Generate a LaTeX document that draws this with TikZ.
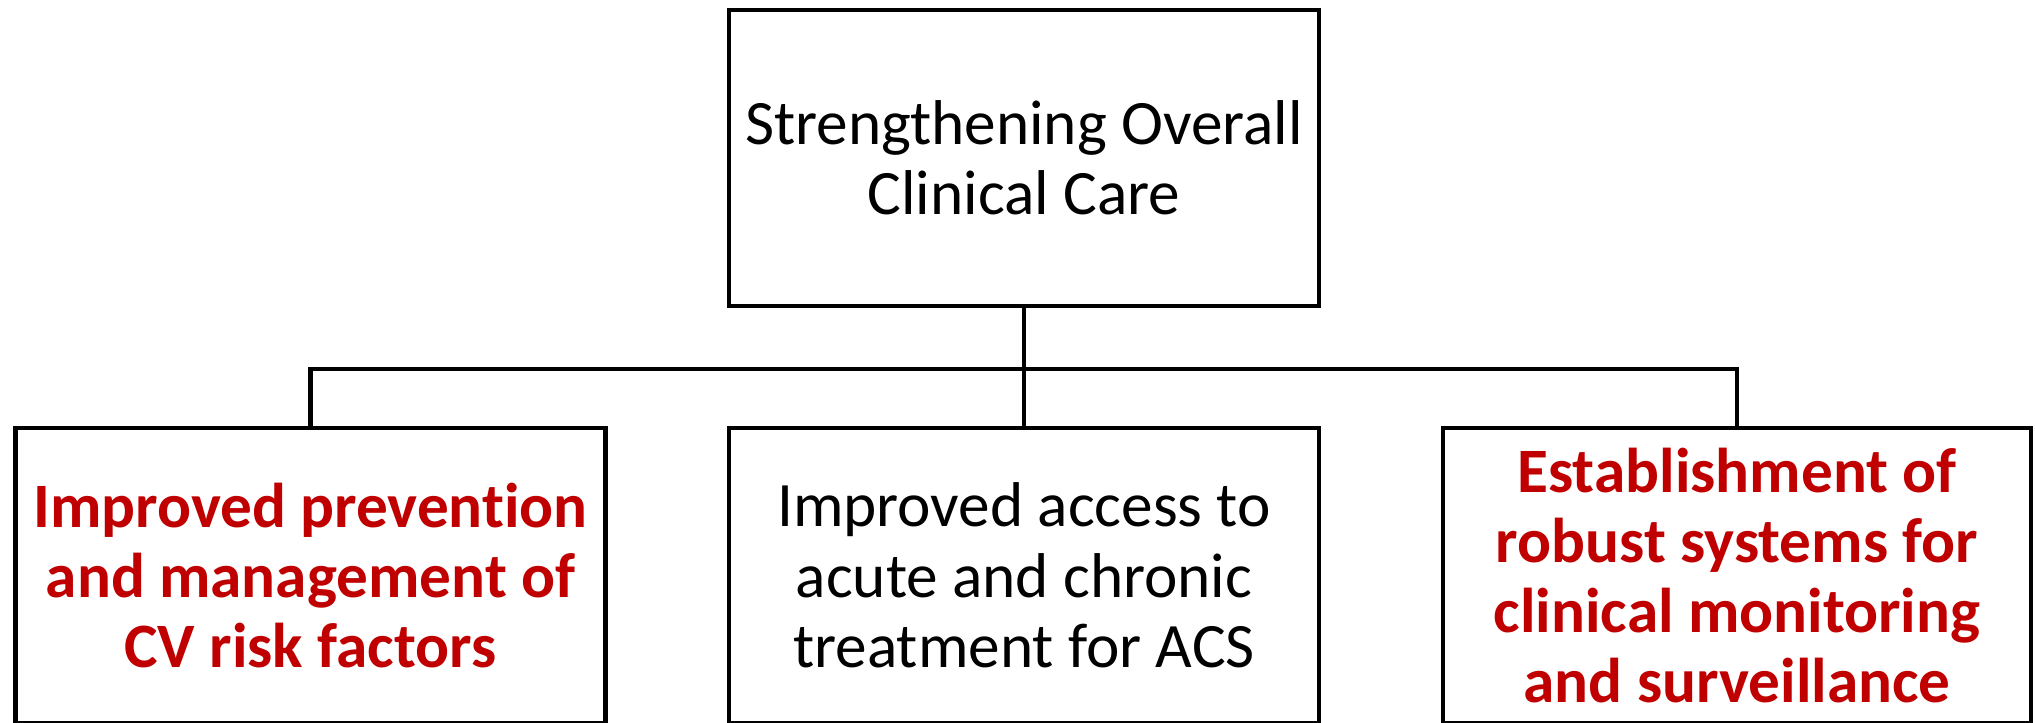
\documentclass[tikz,border=0pt]{standalone}
\usepackage{fontspec}
\setmainfont[Ligatures=NoCommon]{Carlito}
\definecolor{goalRed}{RGB}{192,0,0}
\definecolor{goalStroke}{RGB}{0,0,0}
\tikzset{
  goalbox/.style={draw=goalStroke,line width=1.2pt,fill=white,rectangle,
    minimum width=5.9cm,minimum height=2.95cm,align=center,inner sep=0pt,
    font=\fontsize{18}{20}\selectfont},
  keygoal/.style={goalbox,text=goalRed,font=\fontsize{18}{20}\selectfont\bfseries},
  bus/.style={draw=goalStroke,line width=1.2pt}
}

\begin{document}
\begin{tikzpicture}
  \useasboundingbox (0,0) rectangle (20.35,-7.23);
  \node[goalbox,minimum height=2.96cm] (care) at (10.24,-1.58)
    {Strengthening Overall\\Clinical Care};
  \node[keygoal] (prevent) at (3.105,-5.755)
    {Improved prevention\\and management of\\CV risk factors};
  \node[goalbox] (access) at (10.24,-5.755)
    {Improved access to\\acute and chronic\\treatment for ACS};
  \node[keygoal,minimum width=5.88cm] (monitor) at (17.37,-5.755)
    {Establishment of\\robust systems for\\clinical monitoring\\and surveillance};
  \coordinate (split) at (10.24,-3.69);
  \draw[bus] (care.south) -- (access.north);
  \draw[bus] (prevent.north) |- (split) -| (monitor.north);
\end{tikzpicture}
\end{document}
